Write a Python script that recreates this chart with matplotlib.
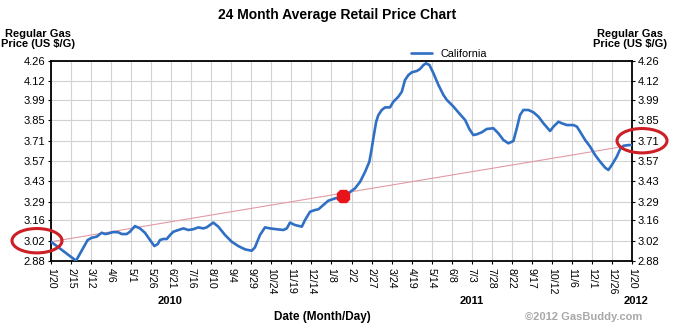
import matplotlib
matplotlib.use("Agg")
import matplotlib.pyplot as plt
import matplotlib.transforms as mtransforms
from matplotlib.patches import Ellipse
import numpy as np

plt.rcParams['font.family'] = ['Liberation Sans', 'DejaVu Sans']

# x positions are in tick units (0 = 1/20/2010, 29 = 1/20/2012)
tick_labels = ['1/20', '2/15', '3/12', '4/6', '5/1', '5/26', '6/21', '7/16', '8/10',
               '9/4', '9/29', '10/24', '11/19', '12/14', '1/8', '2/2', '2/27', '3/24',
               '4/19', '5/14', '6/8', '7/3', '7/28', '8/22', '9/17', '10/12', '11/6',
               '12/1', '12/26', '1/20']
y_ticks = [2.88, 3.02, 3.16, 3.29, 3.43, 3.57, 3.71, 3.85, 3.99, 4.12, 4.26]

ca_x = [0.0, 1.25, 1.83, 2.03, 2.28, 2.53, 2.70, 2.86, 3.11, 3.36, 3.53, 3.78, 3.94,
        4.19, 4.44, 4.69, 4.94, 5.16, 5.33, 5.44, 5.61, 5.78, 5.94, 6.11, 6.36, 6.61,
        6.85, 7.10, 7.35, 7.60, 7.77, 8.10, 8.35, 8.69, 9.02, 9.35, 9.69, 10.02, 10.18,
        10.43, 10.68, 10.93, 11.27, 11.60, 11.77, 11.93, 12.18, 12.52, 12.68, 12.93,
        13.18, 13.35, 13.59, 13.84, 14.18, 14.51, 14.84, 15.18, 15.43, 15.68, 15.89,
        16.01, 16.09, 16.23, 16.34, 16.51, 16.68, 16.92, 17.09, 17.34, 17.51, 17.67,
        17.84, 18.01, 18.26, 18.42, 18.59, 18.72, 18.89, 19.09, 19.34, 19.59, 19.76,
        20.09, 20.33, 20.67, 20.88, 21.08, 21.25, 21.50, 21.75, 22.08, 22.33, 22.58,
        22.83, 23.08, 23.25, 23.41, 23.58, 23.83, 24.08, 24.33, 24.58, 24.91, 25.08,
        25.33, 25.50, 25.75, 26.08, 26.25, 26.41, 26.66, 26.91, 27.16, 27.41, 27.66,
        27.82, 27.99, 28.24, 28.41, 28.57, 28.82, 29.0]
ca_price = [3.013, 2.882, 3.025, 3.040, 3.048, 3.075, 3.066, 3.070, 3.080, 3.078, 3.066,
            3.066, 3.082, 3.121, 3.105, 3.075, 3.025, 2.983, 2.997, 3.025, 3.032, 3.032,
            3.059, 3.082, 3.094, 3.105, 3.094, 3.099, 3.112, 3.105, 3.112, 3.145, 3.117,
            3.059, 3.013, 2.983, 2.960, 2.951, 2.974, 3.059, 3.112, 3.105, 3.099, 3.094,
            3.105, 3.145, 3.128, 3.117, 3.163, 3.220, 3.232, 3.237, 3.266, 3.296, 3.312,
            3.323, 3.347, 3.382, 3.427, 3.496, 3.565, 3.657, 3.727, 3.841, 3.887, 3.922,
            3.940, 3.940, 3.979, 4.014, 4.048, 4.129, 4.163, 4.182, 4.191, 4.205, 4.232,
            4.244, 4.232, 4.175, 4.094, 4.025, 3.991, 3.945, 3.906, 3.853, 3.791, 3.749,
            3.754, 3.768, 3.791, 3.796, 3.761, 3.715, 3.692, 3.708, 3.796, 3.887, 3.922,
            3.922, 3.906, 3.876, 3.830, 3.777, 3.807, 3.841, 3.830, 3.818, 3.818, 3.807,
            3.772, 3.715, 3.669, 3.611, 3.565, 3.524, 3.508, 3.542, 3.600, 3.653, 3.675,
            3.680, 3.680]

marker_x = 14.58
marker_y = 3.33

years = ['2010', '2011', '2012']
year_x = [5.95, 21.0, 29.2]

blue = '#2f6fc4'
red = '#cc1f26'

fig = plt.figure(figsize=(6.74, 3.32), dpi=100)
fig.patch.set_facecolor('white')
ax = fig.add_axes([51 / 674, 1 - 261 / 332, 581 / 674, 200 / 332])

ax.plot(ca_x, ca_price, color=blue, lw=1.9, solid_capstyle='round', zorder=3,
        label='California')
ax.plot([ca_x[0], ca_x[-1]], [ca_price[0], ca_price[-1]], color='#e39aa4', lw=0.8, zorder=2)
ax.plot([marker_x], [marker_y], marker='8', ms=10, color='#e8141c', mec='#e8141c', zorder=4)

ax.set_xlim(0, len(tick_labels) - 1)
ax.set_ylim(y_ticks[0], y_ticks[-1])
ax.set_xticks(range(len(tick_labels)))
ax.set_xticklabels(tick_labels, rotation=270, fontsize=7.7)
ax.set_yticks(y_ticks)
ax.set_yticklabels(['%.2f' % v for v in y_ticks], fontsize=8)
ax.tick_params(axis='y', which='both', left=True, right=True, labelleft=True,
               labelright=True, length=2, pad=2)
ax.tick_params(axis='x', length=2, pad=3)
ax.grid(True, color='#d2d2d2', lw=0.8)
ax.set_axisbelow(True)
for s in ax.spines.values():
    s.set_color('black')
    s.set_linewidth(1.3)

leg = ax.legend(loc='lower center', bbox_to_anchor=(0.685, 0.99), frameon=False,
                fontsize=7.8, handlelength=2.0, borderaxespad=0)

fig.text(0.5, 1 - 15 / 332, '24 Month Average Retail Price Chart', ha='center',
         va='center', fontsize=10, fontweight='bold')
fig.text(38 / 674, 1 - 39 / 332, 'Regular Gas\nPrice (US $/G)', ha='center', va='center',
         fontsize=8, fontweight='bold', linespacing=1.05)
fig.text(630 / 674, 1 - 39 / 332, 'Regular Gas\nPrice (US $/G)', ha='center', va='center',
         fontsize=8, fontweight='bold', linespacing=1.05)

trans = mtransforms.blended_transform_factory(ax.transData, fig.transFigure)
for yr, xp in zip(years, year_x):
    fig.text(xp, 1 - 301 / 332, yr, transform=trans, ha='center', va='center',
             fontsize=8, fontweight='bold')

fig.text(322 / 674, 1 - 317 / 332, 'Date (Month/Day)', ha='center', va='center',
         fontsize=8.5, fontweight='bold')
fig.text(584 / 674, 1 - 317 / 332, '\u00a92012 GasBuddy.com', ha='center', va='center',
         fontsize=8, fontweight='bold', color='#a8a8a8')

# red circles around first / last tick labels
circ_tr = mtransforms.blended_transform_factory(fig.transFigure, ax.transData)
ell_h = (y_ticks[1] - y_ticks[0]) * 1.2
for cx, cy in [(37 / 674, 3.02), (642 / 674, 3.71)]:
    e = Ellipse((cx, cy), 50 / 674, ell_h, transform=circ_tr, fill=False,
                edgecolor=red, lw=2.2, clip_on=False, zorder=5)
    fig.add_artist(e)

fig.savefig('out.png', dpi=100)
